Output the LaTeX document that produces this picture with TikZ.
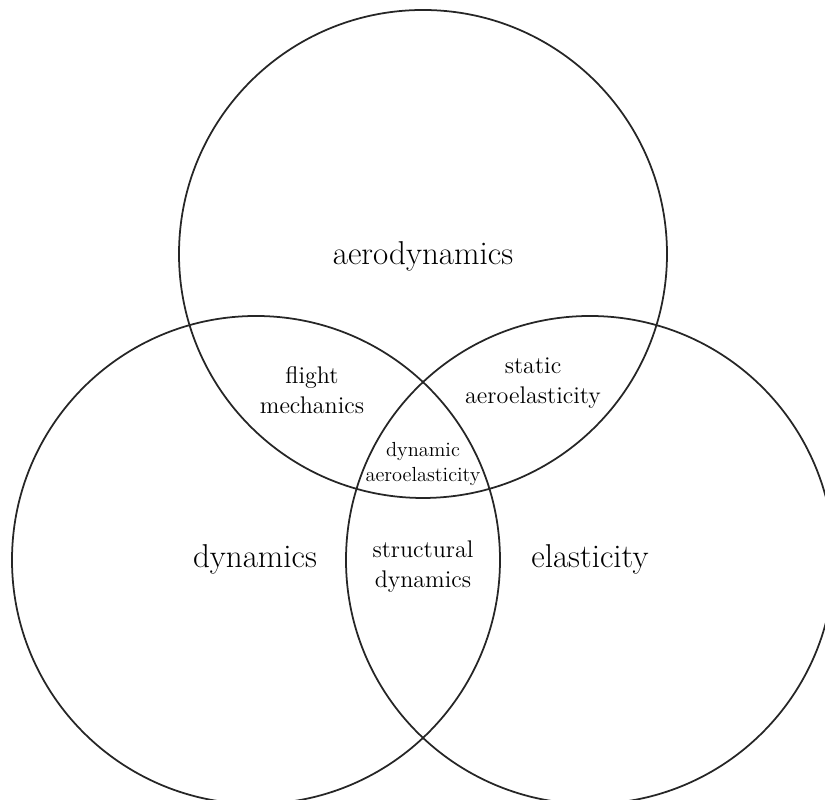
\documentclass[tikz,border=0pt]{standalone}
\usetikzlibrary{backgrounds}
\pgfdeclarelayer{edgelayer}
\pgfdeclarelayer{nodelayer}
\pgfsetlayers{edgelayer,nodelayer,main}
\tikzstyle{none}=[inner sep=0pt]
\tikzstyle{big}=[inner sep=0pt,align=center,font=\fontsize{18.8}{22}\selectfont]
\tikzstyle{mid}=[inner sep=0pt,align=center,font=\fontsize{13.7}{17}\selectfont]
\tikzstyle{small}=[inner sep=0pt,align=center,font=\fontsize{11.6}{14.2}\selectfont]
\tikzstyle{ring}=[draw=black!85,line width=1pt]

\begin{document}
\begin{tikzpicture}
	\useasboundingbox (0,0) rectangle (16.5,16);
	\clip (0,0) rectangle (16.5,16);
	\begin{pgfonlayer}{nodelayer}
		\node [style=none] (0) at (8.46, 10.92) {};
		\node [style=none] (1) at (5.12, 4.8) {};
		\node [style=none] (2) at (11.8, 4.8) {};
		\node [style=big] (3) at (8.46, 10.88) {aerodynamics};
		\node [style=big] (4) at (5.1, 4.82) {dynamics};
		\node [style=big] (5) at (11.8, 4.82) {elasticity};
		\node [style=mid] (6) at (6.24, 8.2) {flight\\mechanics};
		\node [style=mid] (7) at (10.66, 8.34) {static\\aeroelasticity};
		\node [style=mid] (8) at (8.46, 4.66) {structural\\dynamics};
		\node [style=small] (9) at (8.46, 6.72) {dynamic\\aeroelasticity};
	\end{pgfonlayer}
	\begin{pgfonlayer}{edgelayer}
		\draw [style=ring] (0.center) circle (4.88);
		\draw [style=ring] (1.center) circle (4.88);
		\draw [style=ring] (2.center) circle (4.88);
	\end{pgfonlayer}
\end{tikzpicture}
\end{document}
